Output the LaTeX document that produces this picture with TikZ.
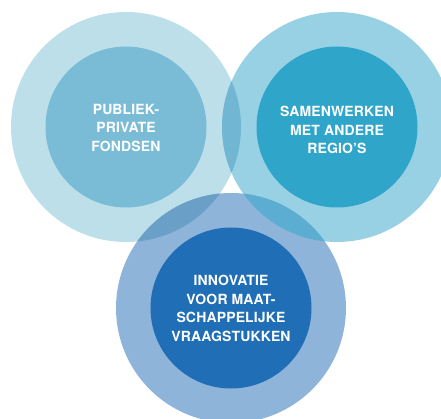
\documentclass[tikz,border=0pt]{standalone}
\usepackage{fontspec}
\setmainfont{TeX Gyre Heros}[LetterSpace=1]
\definecolor{outerA}{HTML}{BCDFEA}
\definecolor{outerB}{HTML}{98D1E3}
\definecolor{outerC}{HTML}{8FB4DA}
\definecolor{lensAB}{HTML}{71B6D3}
\definecolor{lensAC}{HTML}{6A9FC8}
\definecolor{lensBC}{HTML}{5BAED2}
\definecolor{innerA}{HTML}{7ABCD6}
\definecolor{innerB}{HTML}{30A5CA}
\definecolor{innerC}{HTML}{1F6EB6}
\tikzset{
  outercirc/.style={circle, minimum size=230pt, inner sep=0pt, draw=none},
  innercirc/.style={circle, minimum size=161pt, inner sep=0pt, draw=none},
  labeltext/.style={text=white, align=center, inner sep=0pt,
     font=\fontsize{14}{18.5}\selectfont\bfseries},
}
\begin{document}
\begin{tikzpicture}[x=1pt,y=-1pt]
\useasboundingbox (0,0) rectangle (441,419);
\clip (0,0) rectangle (441,419);
\coordinate (cA) at (126,127);
\coordinate (cB) at (337,127);
\coordinate (cC) at (231,308);
\node[outercirc, fill=outerA] (oA) at (cA) {};
\node[outercirc, fill=outerB] (oB) at (cB) {};
\node[outercirc, fill=outerC] (oC) at (cC) {};
\begin{scope}
  \clip (cA) circle (115);
  \fill[lensAB] (cB) circle (115);
  \fill[lensAC] (cC) circle (115);
\end{scope}
\begin{scope}
  \clip (cB) circle (115);
  \fill[lensBC] (cC) circle (115);
\end{scope}
\node[innercirc, fill=innerA] (iA) at (cA) {};
\node[innercirc, fill=innerB] (iB) at (cB) {};
\node[innercirc, fill=innerC] (iC) at (cC) {};
\node[labeltext] (tA) at (126,127.5) {PUBLIEK-\\PRIVATE\\FONDSEN};
\node[labeltext] (tB) at (337,130) {SAMENWERKEN\\MET ANDERE\\REGIO’S};
\node[labeltext] (tC) at (231,308.5) {INNOVATIE\\VOOR MAAT-\\SCHAPPELIJKE\\VRAAGSTUKKEN};
\end{tikzpicture}
\end{document}
